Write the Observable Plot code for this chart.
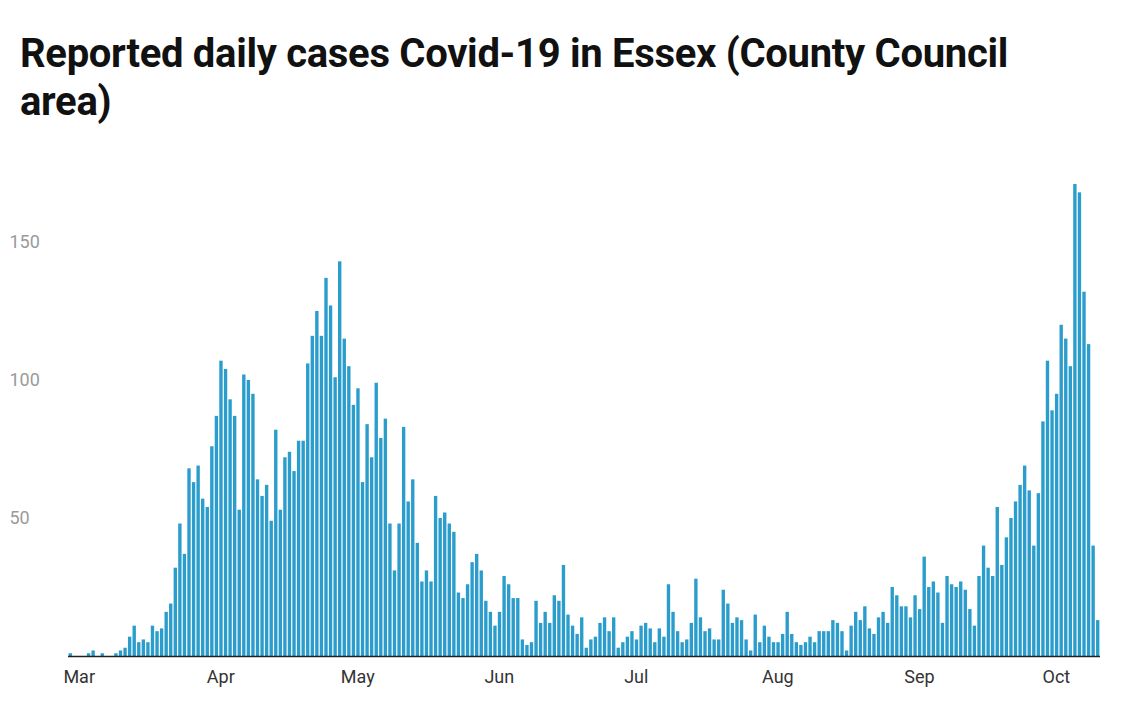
<!DOCTYPE html>
<html><head><meta charset="utf-8">
<script src="https://cdn.jsdelivr.net/npm/d3@7"></script>
<script src="https://cdn.jsdelivr.net/npm/@observablehq/plot@0.6"></script>
<style>
body{margin:0;background:#fff;font-family:Roboto,"Noto Sans",sans-serif;}
h1{margin:0;padding:30px 0 0 20px;width:1060px;font-size:40px;line-height:48px;font-weight:700;color:#111;letter-spacing:-0.3px;}
#chart{position:absolute;top:160px;left:0;}
</style></head><body>
<h1>Reported daily cases Covid-19 in Essex (County Council area)</h1>
<div id="chart"></div>
<script>
const startDate = "2020-02-27";
const cases = [1,0,0,0,1,2,0,1,0,0,1,2,3,7,11,5,6,5,11,9,10,16,19,32,48,37,68,63,69,57,54,76,87,107,104,93,87,53,
102,100,95,64,58,62,49,82,53,72,74,67,78,78,106,116,125,116,137,127,101,143,115,105,91,97,63,84,72,99,79,86,48,31,48,83,
56,64,41,27,31,27,58,50,52,48,45,23,21,26,34,37,31,20,16,11,16,29,26,21,21,6,4,5,20,12,16,12,22,20,33,15,11,8,14,
3,6,7,12,14,9,14,3,5,7,9,6,11,12,10,5,10,7,26,16,9,5,6,12,28,14,9,10,6,6,24,19,12,14,13,6,2,15,
5,11,7,5,5,8,16,8,5,4,5,7,5,9,9,9,13,12,9,2,11,16,13,18,10,8,14,16,12,25,22,18,18,14,22,17,36,
25,27,23,12,29,26,25,27,24,17,11,29,40,32,29,54,33,43,50,56,62,69,60,40,59,85,107,89,95,120,115,105,171,168,132,113,40,13];
const yTicks = [50,100,150];
const monthTicks = ["2020-03-01","2020-04-01","2020-05-01","2020-06-01","2020-07-01","2020-08-01","2020-09-01","2020-10-01"];

const t0 = new Date(startDate);
const data = cases.map((v,i)=>({date:d3.utcDay.offset(t0,i), value:v}));
const end = d3.utcDay.offset(t0, cases.length);

const chart = Plot.plot({
  width:1124, height:540,
  marginLeft:68, marginRight:24, marginTop:13, marginBottom:44,
  style:{fontFamily:"Roboto, 'Noto Sans', sans-serif", fontSize:"18px", background:"white"},
  x:{type:"utc", domain:[t0,end], ticks:monthTicks.map(d=>new Date(d)), tickFormat:d3.utcFormat("%b"), tickSize:0, tickPadding:14, label:null},
  y:{domain:[0,175], ticks:yTicks, tickSize:0, label:null},
  marks:[
    Plot.gridY(yTicks,{stroke:"#e3e3e3", strokeOpacity:1, strokeWidth:1.5, x1:0, x2:1124}),
    Plot.axisY({ticks:yTicks, tickSize:0, textAnchor:"start", dx:-50, dy:0, fill:"#9a9a9a", label:null}),
    Plot.axisX({ticks:monthTicks.map(d=>new Date(d)), tickFormat:d3.utcFormat("%b"), tickSize:0, tickPadding:14, dx:-3, fill:"#333", label:null}),
    Plot.rectY(data,{x:"date", y:"value", interval:"day", fill:"#2a9dcc", insetLeft:0.6, insetRight:0.6}),
    Plot.ruleY([0],{stroke:"#222", strokeWidth:1.5})
  ]
});
document.getElementById("chart").appendChild(chart);
</script></body></html>
